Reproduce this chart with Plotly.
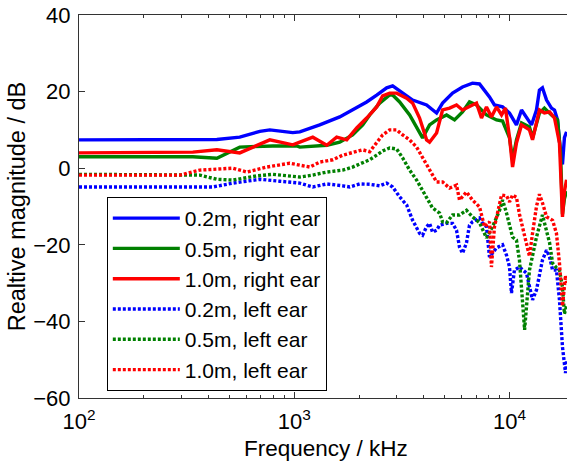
import plotly.graph_objects as go

# ---- data (frequency in Hz, magnitude in dB) ----
f_r02 = [100, 437, 558, 692, 770, 984, 1061, 1313, 1626, 1867, 2169, 2415, 2687, 2865, 3187, 3547, 4118,
         4583, 4886, 5438, 6047, 6728, 7254, 8072, 8511, 9284, 10000, 10770, 11370, 11990, 12650, 13340,
         13770, 14220, 14860, 15660, 16180, 16710, 17260, 17620, 17990, 18410]
db_r02 = [7.4, 7.5, 8.1, 9.6, 10.0, 9.3, 9.5, 11.3, 13.4, 15.2, 17.3, 19.1, 21.0, 21.5, 19.6, 17.8, 16.5,
          14.4, 17.0, 19.6, 21.2, 22.2, 22.0, 18.6, 16.5, 16.0, 14.4, 11.3, 15.2, 13.1, 11.3, 15.2,
          20.4, 21.0, 17.8, 15.7, 15.2, 12.6, 4.0, 1.0, 8.0, 9.5]

f_r05 = [100, 338, 437, 558, 795, 1028, 1061, 1416, 1626, 1867, 2080, 2240, 2494, 2774, 2865, 3087, 3435,
         3741, 3945, 4252, 4583, 5102, 5555, 6047, 6516, 7024, 7816, 8702, 9284, 10000, 10330, 10770,
         11370, 12380, 12790, 13770, 14520, 15660, 16710, 17260, 17620, 17990, 18410]
db_r05 = [3.0, 3.0, 2.6, 5.5, 5.8, 5.8, 5.5, 6.0, 6.8, 8.7, 11.3, 13.9, 17.0, 19.1, 19.1, 17.3, 13.9,
          10.0, 7.9, 11.3, 12.6, 13.9, 12.6, 14.7, 17.3, 16.5, 13.9, 12.6, 12.3, 7.9, 2.2, 7.4,
          11.8, 10.8, 7.9, 14.4, 15.7, 13.9, 12.6, 4.0, -12.0, -8.0, -6.0]

f_r10 = [100, 338, 437, 558, 770, 984, 1061, 1219, 1416, 1574, 1753, 1950, 2169, 2415, 2575, 2774, 2990,
         3327, 3547, 3821, 4118, 4252, 4583, 4886, 5267, 5673, 6047, 6516, 7024, 7411, 7816, 8241, 8702,
         9181, 9572, 10000, 10330, 10770, 11370, 12380, 12790, 13770, 14520, 15350, 16180, 17060, 17620,
         17990, 18410]
db_r10 = [4.0, 4.2, 4.8, 4.0, 7.4, 6.1, 6.8, 8.1, 6.0, 8.1, 7.4, 10.5, 13.1, 16.0, 18.9, 19.6, 19.6,
          18.3, 17.0, 13.1, 7.4, 6.8, 9.2, 15.2, 15.7, 16.5, 15.2, 16.0, 17.0, 13.1, 16.0, 13.4, 16.0,
          13.9, 15.7, 8.1, 0.3, 6.6, 11.3, 10.0, 7.4, 15.2, 14.4, 14.7, 13.1, 6.6, -12.7,
          -6.0, -3.0]

f_l02 = [100, 419, 518, 692, 857, 1061, 1219, 1416, 1679, 1810, 2014, 2240, 2494, 2687, 2865, 3087, 3327,
         3547, 3821, 3945, 4118, 4252, 4390, 4583, 4732, 5102, 5438, 5673, 5857, 6047, 6310, 6516, 6728,
         7254, 7490, 7816, 8072, 8337, 8702, 9284, 9683, 10000, 10210, 10540, 11120, 11990, 12380, 12790,
         13340, 14220, 14860, 15350, 15850, 16520, 17060, 17620, 18200, 18410]
db_l02 = [-4.9, -4.9, -3.9, -2.9, -3.4, -3.9, -4.9, -4.1, -4.6, -4.9, -4.1, -4.2, -4.6, -3.9, -4.9, -7.5, -9.6,
          -13.6, -17.0, -17.5, -15.3, -14.4, -16.7, -16.2, -14.9, -14.4, -14.4, -16.2, -20.6, -22.2, -19.5, -14.9, -14.0,
          -13.0, -14.4, -15.3, -23.2, -22.2, -20.8, -20.0, -22.7, -25.8, -32.6, -26.6, -25.8, -27.4, -31.0, -34.4,
          -31.8, -24.0, -21.4, -23.2, -26.6, -26.6, -34.4, -46.7, -53.5, -50.0]

f_l05 = [100, 364, 437, 518, 670, 795, 1061, 1219, 1416, 1679, 1867, 2080, 2240, 2415, 2575, 2774, 2990,
         3187, 3435, 3702, 3945, 4118, 4390, 4732, 4886, 5102, 5438, 5857, 6310, 6728, 7254, 7816, 8337,
         8990, 9284, 9683, 10330, 10770, 11120, 11750, 12380, 13340, 14220, 15350, 15850, 16520, 17060,
         17620, 17990, 18410]
db_l05 = [-1.6, -1.8, -2.9, -3.1, -2.0, -1.6, -2.3, -1.8, -1.0, -0.5, 0.3, 1.3, 2.2, 3.4, 4.5, 5.3, 5.0,
          2.7, -0.5, -3.1, -5.7, -7.6, -10.4, -11.7, -14.0, -14.2, -12.2, -12.2, -11.0, -12.7, -14.2, -18.2, -15.3,
          -11.0, -8.3, -11.7, -18.0, -18.8, -24.0, -42.2, -26.6, -18.0, -12.2, -19.5, -24.8, -26.0, -26.6,
          -31.0, -38.0, -36.0]

f_l10 = [100, 294, 364, 518, 602, 745, 953, 1181, 1313, 1509, 1679, 1867, 2080, 2240, 2415, 2575, 2774,
         2990, 3187, 3435, 3702, 3945, 4252, 4583, 4886, 5267, 5673, 5857, 6310, 6728, 7254, 7656, 8072,
         8241, 8511, 9181, 9683, 10000, 10330, 10770, 11120, 11750, 12380, 12790, 13340, 13770, 14220,
         14860, 15850, 16520, 17060, 17620, 18200, 18410]
db_l10 = [-1.8, -1.8, -0.5, 0.0, -1.0, 0.3, 1.3, 0.3, 1.6, 2.2, 3.4, 4.2, 4.8, 4.3, 6.6, 8.7, 10.0,
          10.0, 8.7, 7.4, 5.5, 2.9, -0.5, -3.6, -3.6, -5.2, -4.4, -8.3, -6.2, -8.3, -10.1, -15.3, -14.0,
          -25.8, -15.3, -7.0, -7.2, -8.8, -7.0, -7.6, -12.0, -18.0, -23.0, -17.0, -10.0, -6.8, -9.0,
          -12.7, -13.6, -17.0, -24.8, -36.0, -28.0, -30.0]

names = ["0.2m, right ear", "0.5m, right ear", "1.0m, right ear",
         "0.2m, left ear", "0.5m, left ear", "1.0m, left ear"]
colors = ["#0000ff", "#008000", "#ff0000", "#0000ff", "#008000", "#ff0000"]
dashes = ["solid", "solid", "solid", "3px,2px", "3px,2px", "3px,2px"]
xs = [f_r02, f_r05, f_r10, f_l02, f_l05, f_l10]
ys = [db_r02, db_r05, db_r10, db_l02, db_l05, db_l10]

x_tickvals = [100, 1000, 10000]
x_ticktext = ["10<sup>2</sup>", "10<sup>3</sup>", "10<sup>4</sup>"]
x_minorvals = [200, 300, 400, 500, 600, 700, 800, 900,
               2000, 3000, 4000, 5000, 6000, 7000, 8000, 9000]
y_tickvals = [-60, -40, -20, 0, 20, 40]

fig = go.Figure()
for i in range(6):
    fig.add_trace(go.Scatter(x=xs[i], y=ys[i], mode="lines", name=names[i],
                             line=dict(color=colors[i], width=3.4, dash=dashes[i])))

font = "Liberation Sans, Arial, sans-serif"
fig.update_layout(
    width=567, height=465,
    margin=dict(l=79, r=0, t=15, b=67),
    plot_bgcolor="white", paper_bgcolor="white",
    font=dict(family=font, size=22, color="black"),
    legend=dict(x=0.057, y=0.525, xanchor="left", yanchor="top",
                bgcolor="white", bordercolor="black", borderwidth=1,
                font=dict(size=21), itemwidth=67),
    xaxis=dict(type="log", range=[2, 4.267], showgrid=False, zeroline=False, automargin=False,
               showline=True, linecolor="#333333", linewidth=1, mirror="ticks",
               ticks="inside", ticklen=6, tickcolor="#333333",
               tickvals=x_tickvals, ticktext=x_ticktext, tickfont=dict(size=22),
               ticklabelstandoff=4, ticklabeloverflow="allow",
               minor=dict(ticks="inside", ticklen=3, tickvals=x_minorvals, tickcolor="#333333")),
    yaxis=dict(range=[-60, 40], showgrid=False, zeroline=False, automargin=False,
               showline=True, linecolor="#333333", linewidth=1,
               ticks="inside", ticklen=6, tickcolor="#333333", tickvals=y_tickvals,
               tickfont=dict(size=22), ticklabelstandoff=3, ticklabeloverflow="allow",
               title=dict(text="Realtive magnitude / dB", font=dict(size=23.5), standoff=1)),
    annotations=[dict(text="Frequency / kHz", xref="paper", yref="paper", x=0.506, y=-0.132,
                      xanchor="center", yanchor="middle", showarrow=False, font=dict(size=22.5))],
)

# remove the browser's default 8px body margin so the figure fills the window exactly
fig.write_html("out.html", config={"displayModeBar": False},
               post_script="document.body.style.margin='0';")
